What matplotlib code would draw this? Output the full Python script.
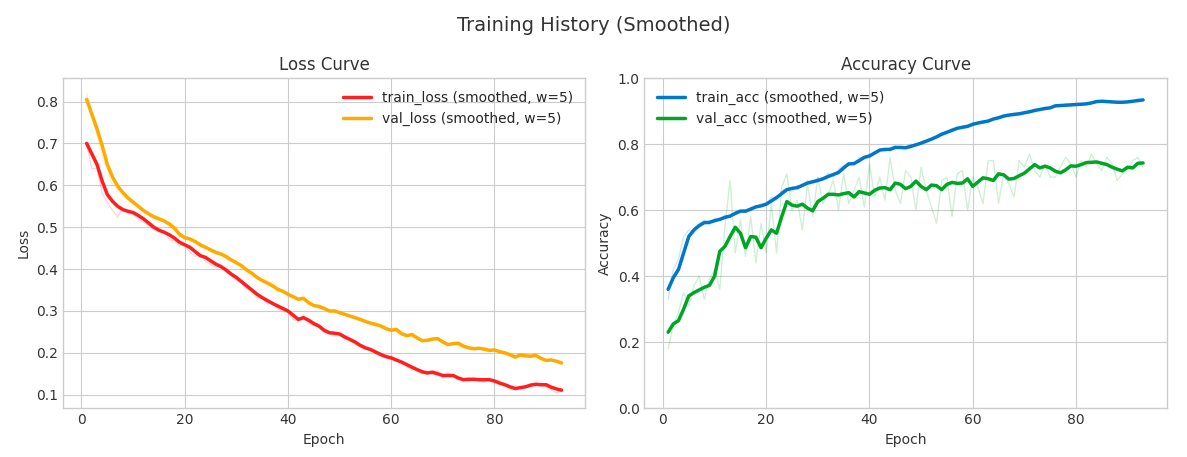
import numpy as np
import matplotlib
matplotlib.use('Agg')
from matplotlib import pyplot as plt

# epochs 1..93
epochs = np.arange(1, 94)

# raw (faint) curves
train_loss = [0.700, 0.640, 0.640, 0.580, 0.560, 0.540, 0.525, 0.545, 0.535, 0.530,
              0.520, 0.512, 0.505, 0.495, 0.488, 0.492, 0.470, 0.468, 0.455, 0.460,
              0.440, 0.430, 0.438, 0.418, 0.412, 0.405, 0.410, 0.392, 0.385, 0.372,
              0.368, 0.352, 0.348, 0.332, 0.330, 0.318, 0.322, 0.305, 0.300, 0.296,
              0.280, 0.275, 0.290, 0.270, 0.265, 0.262, 0.248, 0.252, 0.240, 0.246,
              0.232, 0.236, 0.220, 0.215, 0.208, 0.210, 0.198, 0.192, 0.190, 0.185,
              0.180, 0.178, 0.168, 0.160, 0.162, 0.150, 0.156, 0.148, 0.158, 0.140,
              0.152, 0.144, 0.135, 0.138, 0.132, 0.140, 0.134, 0.130, 0.138, 0.128,
              0.125, 0.122, 0.116, 0.112, 0.118, 0.120, 0.126, 0.122, 0.128, 0.118,
              0.112, 0.104, 0.112]
val_loss = [0.820, 0.760, 0.720, 0.670, 0.640, 0.600, 0.590, 0.575, 0.565, 0.552,
            0.548, 0.535, 0.528, 0.520, 0.512, 0.516, 0.500, 0.492, 0.478, 0.472,
            0.468, 0.462, 0.452, 0.455, 0.440, 0.436, 0.440, 0.425, 0.418, 0.420,
            0.400, 0.395, 0.380, 0.385, 0.368, 0.362, 0.370, 0.345, 0.350, 0.335,
            0.330, 0.325, 0.338, 0.312, 0.316, 0.305, 0.310, 0.296, 0.304, 0.292,
            0.290, 0.285, 0.282, 0.276, 0.272, 0.268, 0.264, 0.266, 0.252, 0.258,
            0.250, 0.242, 0.246, 0.238, 0.232, 0.228, 0.234, 0.230, 0.238, 0.222,
            0.218, 0.226, 0.216, 0.212, 0.214, 0.206, 0.212, 0.208, 0.202, 0.210,
            0.200, 0.198, 0.192, 0.188, 0.198, 0.190, 0.196, 0.192, 0.184, 0.180,
            0.186, 0.178, 0.176]
train_acc = [0.330, 0.420, 0.450, 0.520, 0.540, 0.530, 0.560, 0.570, 0.555, 0.575,
             0.570, 0.585, 0.578, 0.595, 0.600, 0.592, 0.610, 0.605, 0.620, 0.615,
             0.640, 0.630, 0.660, 0.665, 0.655, 0.675, 0.670, 0.690, 0.680, 0.698,
             0.690, 0.712, 0.700, 0.725, 0.735, 0.745, 0.738, 0.760, 0.755, 0.770,
             0.775, 0.785, 0.778, 0.790, 0.795, 0.786, 0.792, 0.800, 0.795, 0.808,
             0.812, 0.818, 0.825, 0.835, 0.832, 0.848, 0.845, 0.855, 0.850, 0.865,
             0.860, 0.872, 0.868, 0.880, 0.876, 0.890, 0.884, 0.895, 0.888, 0.900,
             0.896, 0.905, 0.902, 0.912, 0.908, 0.920, 0.915, 0.922, 0.916, 0.924,
             0.918, 0.926, 0.922, 0.932, 0.928, 0.932, 0.925, 0.930, 0.924, 0.932,
             0.928, 0.938, 0.932]
val_acc = [0.18, 0.25, 0.29, 0.35, 0.31, 0.37, 0.40, 0.33, 0.39, 0.42,
           0.36, 0.55, 0.69, 0.47, 0.57, 0.46, 0.58, 0.44, 0.56, 0.47,
           0.62, 0.47, 0.67, 0.71, 0.60, 0.63, 0.54, 0.68, 0.58, 0.70,
           0.62, 0.65, 0.69, 0.60, 0.71, 0.62, 0.66, 0.70, 0.61, 0.74,
           0.64, 0.70, 0.63, 0.76, 0.66, 0.62, 0.72, 0.70, 0.60, 0.73,
           0.66, 0.61, 0.56, 0.69, 0.70, 0.58, 0.71, 0.72, 0.60, 0.70,
           0.67, 0.62, 0.75, 0.75, 0.62, 0.71, 0.68, 0.64, 0.75, 0.73,
           0.77, 0.72, 0.70, 0.74, 0.70, 0.70, 0.73, 0.76, 0.74, 0.70,
           0.75, 0.73, 0.77, 0.74, 0.72, 0.76, 0.74, 0.69, 0.71, 0.72,
           0.75, 0.76, 0.73]

# smoothed curves (w=5)
train_loss_s = [0.700, 0.675, 0.650, 0.610, 0.578, 0.562, 0.550, 0.542, 0.538, 0.535,
                0.528, 0.520, 0.510, 0.500, 0.493, 0.488, 0.482, 0.474, 0.464, 0.458,
                0.452, 0.442, 0.432, 0.428, 0.420, 0.412, 0.406, 0.398, 0.388, 0.380,
                0.370, 0.360, 0.350, 0.340, 0.332, 0.325, 0.318, 0.312, 0.306, 0.300,
                0.290, 0.280, 0.284, 0.278, 0.270, 0.264, 0.254, 0.248, 0.247, 0.245,
                0.238, 0.232, 0.226, 0.218, 0.212, 0.208, 0.202, 0.196, 0.191, 0.188,
                0.183, 0.178, 0.172, 0.166, 0.160, 0.155, 0.152, 0.154, 0.150, 0.146,
                0.146, 0.146, 0.140, 0.136, 0.137, 0.137, 0.136, 0.136, 0.136, 0.133,
                0.128, 0.124, 0.119, 0.115, 0.117, 0.119, 0.123, 0.125, 0.124, 0.124,
                0.118, 0.114, 0.111]
val_loss_s = [0.805, 0.770, 0.735, 0.695, 0.650, 0.620, 0.598, 0.583, 0.570, 0.560,
              0.550, 0.540, 0.532, 0.525, 0.520, 0.515, 0.508, 0.498, 0.483, 0.475,
              0.472, 0.466, 0.458, 0.452, 0.446, 0.440, 0.436, 0.430, 0.422, 0.415,
              0.408, 0.398, 0.390, 0.380, 0.373, 0.367, 0.360, 0.352, 0.347, 0.340,
              0.334, 0.328, 0.330, 0.320, 0.313, 0.311, 0.306, 0.300, 0.300, 0.296,
              0.292, 0.288, 0.284, 0.280, 0.275, 0.271, 0.268, 0.264, 0.258, 0.254,
              0.256, 0.246, 0.241, 0.244, 0.236, 0.229, 0.230, 0.233, 0.234, 0.226,
              0.220, 0.222, 0.223, 0.216, 0.212, 0.210, 0.211, 0.209, 0.206, 0.207,
              0.203, 0.200, 0.196, 0.190, 0.195, 0.193, 0.192, 0.194, 0.187, 0.182,
              0.183, 0.180, 0.176]
train_acc_s = [0.360, 0.395, 0.420, 0.470, 0.520, 0.540, 0.553, 0.562, 0.563, 0.568,
               0.572, 0.578, 0.582, 0.590, 0.597, 0.597, 0.603, 0.610, 0.613, 0.618,
               0.628, 0.638, 0.650, 0.662, 0.666, 0.668, 0.675, 0.682, 0.686, 0.690,
               0.695, 0.702, 0.708, 0.714, 0.728, 0.740, 0.741, 0.750, 0.760, 0.764,
               0.773, 0.782, 0.784, 0.784, 0.790, 0.790, 0.789, 0.793, 0.798, 0.803,
               0.809, 0.815, 0.822, 0.830, 0.836, 0.842, 0.848, 0.851, 0.854, 0.860,
               0.864, 0.867, 0.870, 0.876, 0.880, 0.885, 0.888, 0.890, 0.892, 0.895,
               0.898, 0.902, 0.905, 0.908, 0.910, 0.916, 0.917, 0.918, 0.919, 0.920,
               0.921, 0.922, 0.925, 0.929, 0.930, 0.929, 0.928, 0.927, 0.927, 0.928,
               0.930, 0.932, 0.934]
val_acc_s = [0.230, 0.255, 0.265, 0.300, 0.340, 0.350, 0.358, 0.366, 0.372, 0.400,
             0.475, 0.490, 0.520, 0.548, 0.530, 0.486, 0.520, 0.518, 0.486, 0.515,
             0.540, 0.530, 0.580, 0.626, 0.615, 0.612, 0.618, 0.606, 0.598, 0.626,
             0.636, 0.648, 0.648, 0.646, 0.650, 0.653, 0.640, 0.656, 0.652, 0.648,
             0.660, 0.667, 0.668, 0.662, 0.682, 0.678, 0.665, 0.672, 0.688, 0.672,
             0.662, 0.676, 0.674, 0.662, 0.678, 0.684, 0.681, 0.682, 0.695, 0.672,
             0.685, 0.698, 0.695, 0.690, 0.710, 0.707, 0.694, 0.696, 0.704, 0.712,
             0.725, 0.738, 0.728, 0.733, 0.728, 0.718, 0.713, 0.722, 0.734, 0.733,
             0.738, 0.744, 0.745, 0.746, 0.742, 0.738, 0.730, 0.724, 0.719, 0.730,
             0.728, 0.742, 0.743]

plt.style.use('seaborn-v0_8-whitegrid')
plt.rcParams['font.family'] = ['DejaVu Sans']

RED = '#ff1f1f'
ORANGE = '#ffaa00'
BLUE = '#0077c8'
GREEN = '#00a528'

fig, (ax1, ax2) = plt.subplots(1, 2, figsize=(11.87, 4.57), dpi=100)
fig.subplots_adjust(left=0.053, right=0.983, top=0.829, bottom=0.107, wspace=0.113)

# Loss
ax1.plot(epochs, train_loss, color=RED, alpha=0.18, lw=1)
ax1.plot(epochs, val_loss, color=ORANGE, alpha=0.18, lw=1)
ax1.plot(epochs, train_loss_s, color=RED, lw=2.5, label='train_loss (smoothed, w=5)')
ax1.plot(epochs, val_loss_s, color=ORANGE, lw=2.5, label='val_loss (smoothed, w=5)')
ax1.set_title('Loss Curve', fontsize=12, color='#333333')
ax1.set_xlabel('Epoch', fontsize=10, color='#333333')
ax1.set_ylabel('Loss', fontsize=10, color='#333333')
ax1.legend(loc='upper right', frameon=False, fontsize=10)

# Accuracy
ax2.plot(epochs, train_acc, color=BLUE, alpha=0.18, lw=1)
ax2.plot(epochs, val_acc, color=GREEN, alpha=0.18, lw=1)
ax2.plot(epochs, train_acc_s, color=BLUE, lw=2.5, label='train_acc (smoothed, w=5)')
ax2.plot(epochs, val_acc_s, color=GREEN, lw=2.5, label='val_acc (smoothed, w=5)')
ax2.set_title('Accuracy Curve', fontsize=12, color='#333333')
ax2.set_xlabel('Epoch', fontsize=10, color='#333333')
ax2.set_ylabel('Accuracy', fontsize=10, color='#333333')
ax2.set_ylim(0, 1.0)
ax2.legend(loc='upper left', frameon=False, fontsize=10)

for ax in (ax1, ax2):
    ax.set_xticks([0, 20, 40, 60, 80])
    ax.tick_params(labelsize=10, colors='#333333')
    for s in ax.spines.values():
        s.set_visible(True)
        s.set_color('#cccccc')

fig.suptitle('Training History (Smoothed)', fontsize=14, color='#333333', y=0.965)

plt.savefig('out.png')
